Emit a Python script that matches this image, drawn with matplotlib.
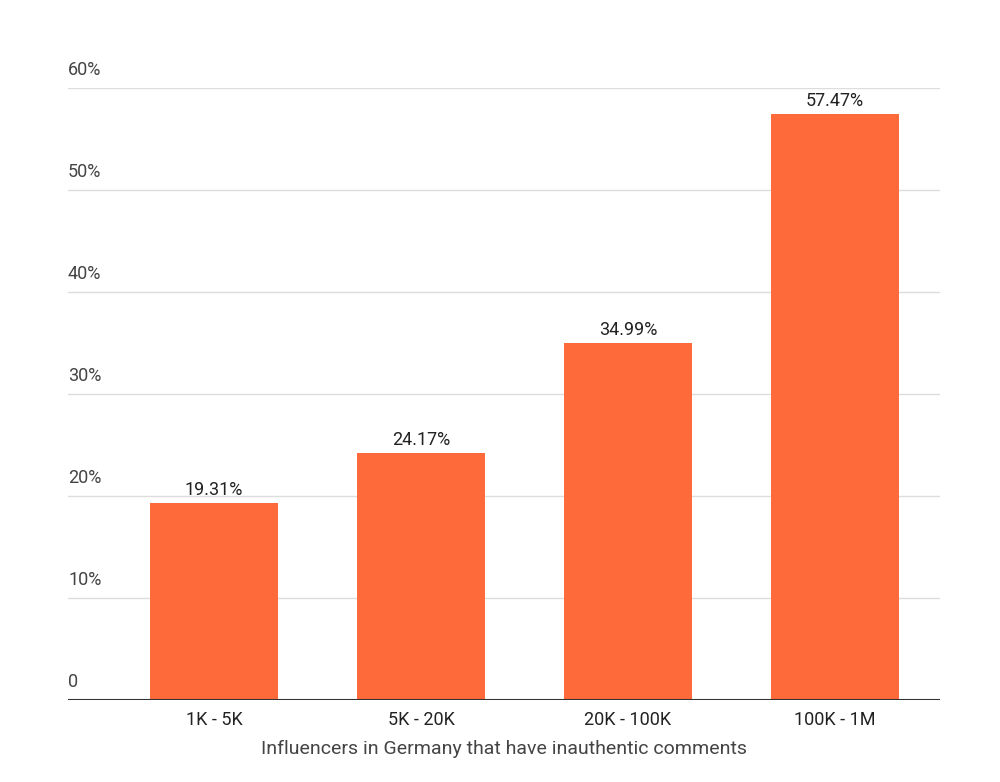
import matplotlib
matplotlib.use("Agg")
import matplotlib.pyplot as plt
import matplotlib.transforms as mtransforms

categories = ["1K - 5K", "5K - 20K", "20K - 100K", "100K - 1M"]
values = [19.31, 24.17, 34.99, 57.47]
yticks = [0, 10, 20, 30, 40, 50, 60]
ytick_labels = ["0", "10%", "20%", "30%", "40%", "50%", "60%"]

plt.rcParams['font.family'] = ['Roboto', 'DejaVu Sans']
fig = plt.figure(figsize=(10, 7.82), dpi=100)
ax = fig.add_axes([0.068, 0.105, 0.872, 0.7825])

x = range(len(categories))
ax.bar(x, values, width=0.62, color="#FF6A3A", zorder=2)
for xi, v in zip(x, values):
    ax.text(xi, v + 0.4, f"{v:.2f}%", ha="center", va="bottom", fontsize=13, color="#222222")

ax.set_xlim(-0.705, 3.507)
ax.set_ylim(0, 60)
for t in yticks[1:]:
    ax.axhline(t, color="#dddddd", lw=1, zorder=0)
ax.axhline(0, color="#333333", lw=1.5, zorder=3)

trans = mtransforms.blended_transform_factory(ax.transAxes, ax.transData)
for t, lab in zip(yticks, ytick_labels):
    ax.text(0, t + 0.9, lab, transform=trans, ha="left", va="bottom", fontsize=13, color="#444444")

ax.set_yticks([])
ax.set_xticks(list(x))
ax.set_xticklabels(categories, fontsize=13, color="#222222")
ax.tick_params(axis="x", length=0, pad=8)
for s in ax.spines.values():
    s.set_visible(False)
ax.set_xlabel("Influencers in Germany that have inauthentic comments", fontsize=14, color="#444444", labelpad=8)

fig.savefig("out.png", dpi=100)
